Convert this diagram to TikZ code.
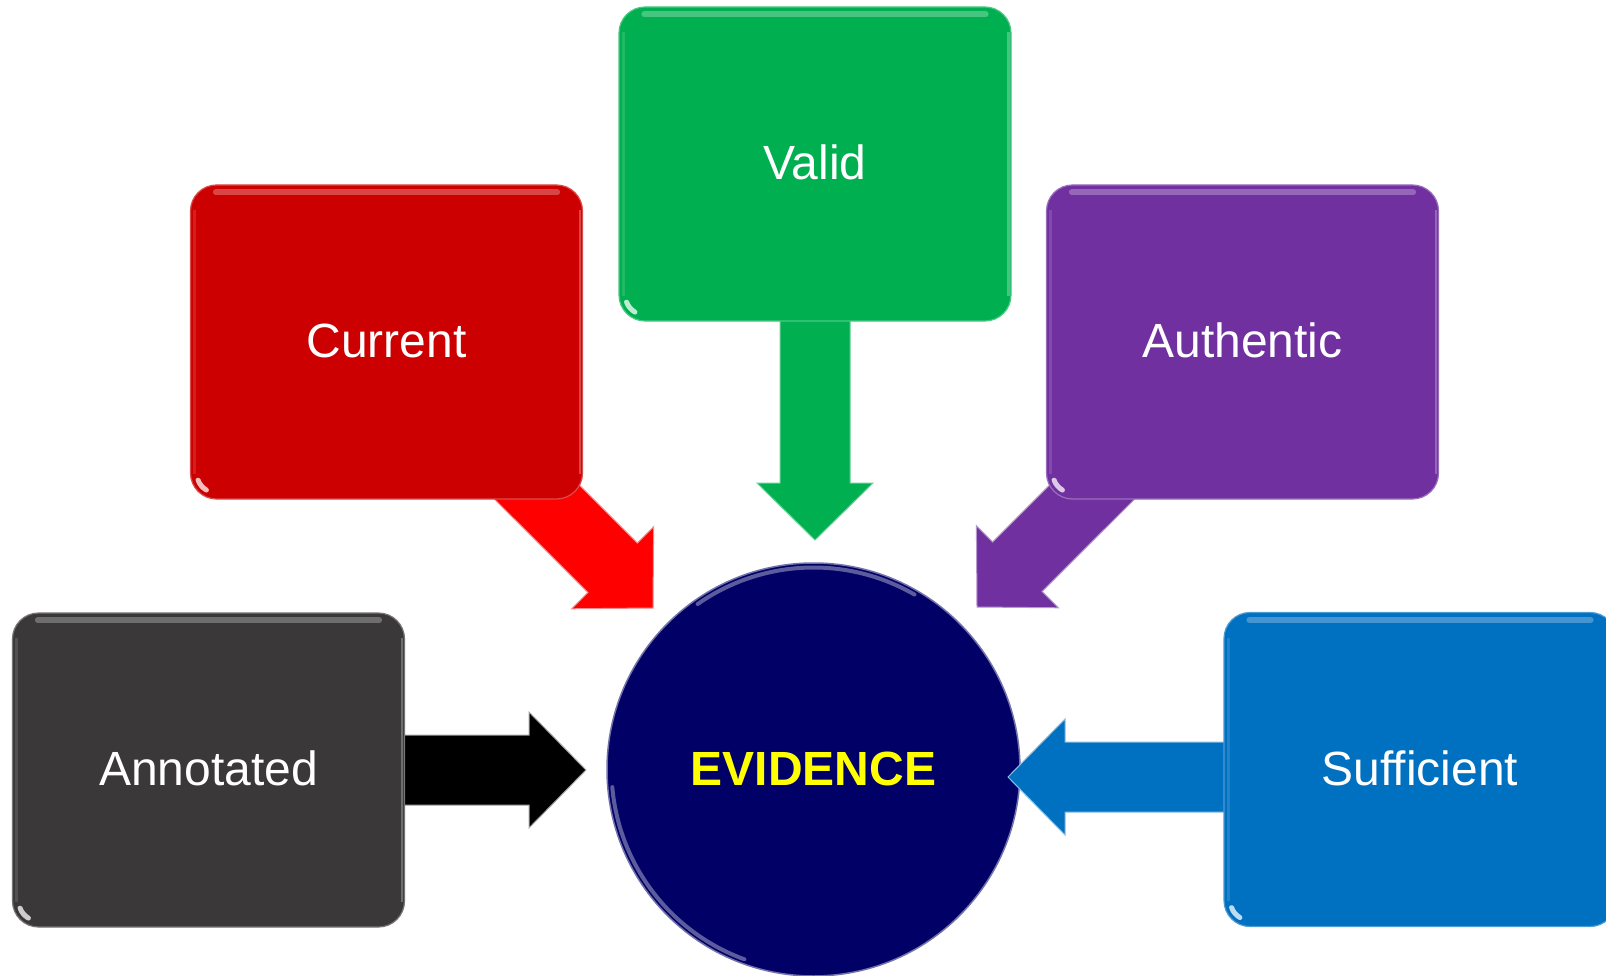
\documentclass[tikz,border=0pt]{standalone}
\usepackage{fontspec}
\setmainfont{Liberation Sans}
\usetikzlibrary{calc}
\definecolor{vgreen}{HTML}{00B050}
\definecolor{cred}{HTML}{CC0000}
\definecolor{ared}{HTML}{FF0000}
\definecolor{apurple}{HTML}{7030A0}
\definecolor{sblue}{HTML}{0070C0}
\definecolor{agray}{HTML}{3B3839}
\definecolor{enavy}{HTML}{000066}
\definecolor{eyellow}{HTML}{FFFF00}

% block arrow from #1 to tip #2, fill #3, edge #4
\newcommand\blockarrow[4]{%
  \coordinate (ba-base) at ($(#2)!57pt!(#1)$);
  \filldraw[fill=#3, draw=#4, line width=1pt, line join=miter]
    ($(#1)!35pt!90:(#2)$) -- ($(ba-base)!35pt!90:(#2)$) -- ($(ba-base)!58pt!90:(#2)$) -- (#2)
    -- ($(ba-base)!58pt!-90:(#2)$) -- ($(ba-base)!35pt!-90:(#2)$) -- ($(#1)!35pt!-90:(#2)$) -- cycle;
}
% bevel highlights of a box node #1 of colour #2
\newcommand\bevel[2]{%
  \draw[line width=6pt, line cap=round, draw=#2!55!white, opacity=.6]
    ($(#1.north west)+(26,8)$) -- ($(#1.north east)+(-26,8)$);
  \draw[line width=2.5pt, draw=#2!55!white, opacity=.6]
    ($(#1.north east)+(-3,26)$) -- ($(#1.south east)+(-3,-26)$);
  \draw[line width=3pt, draw=#2!75!white, opacity=.5]
    ($(#1.north west)+(5,26)$) -- ($(#1.south west)+(5,-26)$);
  \coordinate (bv-c) at ($(#1.south west)+(26,-26)$);
  \draw[line width=5pt, line cap=round, white, opacity=.75]
    ($(bv-c)+(200:19pt)$) arc[start angle=200, end angle=240, radius=19pt];
}

\tikzset{
  box/.style={rectangle, rounded corners=26pt, minimum width=392pt, minimum height=314pt,
    inner sep=0pt, fill=#1, draw=#1!70!white, line width=1.2pt, text=white,
    font=\fontsize{48}{58}\selectfont, text height=31pt, text depth=0pt},
  rimhl/.style={line width=4pt, line cap=round, draw=enavy!40!white, opacity=.6},
}

\begin{document}
\begin{tikzpicture}[x=1pt, y=-1pt]
\useasboundingbox (0,0) rectangle (1606,976);
\clip (0,0) rectangle (1606,976);
\fill[white] (0,0) rectangle (1606,976);

% centre circle
\node[circle, minimum size=413pt, inner sep=0pt, fill=enavy, draw=enavy!55!white, line width=1.5pt,
  text=eyellow, font=\fontsize{48}{58}\selectfont\bfseries, text height=31pt, text depth=0pt]
  (ev) at (813.5,769.5) {EVIDENCE};
\draw[rimhl] ($(ev.center)+(125:202pt)$) arc[start angle=125, end angle=60, radius=202pt];
\draw[rimhl] ($(ev.center)+(185:202pt)$) arc[start angle=185, end angle=250, radius=202pt];

% arrow tips
\coordinate (tvalid) at (815,540);
\coordinate (tcurrent) at (653,608);
\coordinate (tauth) at (977,607);
\coordinate (tannot) at (586,770);
\coordinate (tsuff) at (1008,777);

% box positions (for arrow starts)
\coordinate (cvalid) at (815,164);
\coordinate (ccurrent) at (386.5,342);
\coordinate (cauth) at (1242.5,342);
\coordinate (cannot) at (208.5,770);
\coordinate (csuff) at (1420,777);

% arrows
\blockarrow{cvalid}{tvalid}{vgreen}{vgreen!60!white}
\blockarrow{ccurrent}{tcurrent}{ared}{ared!45!white}
\blockarrow{cauth}{tauth}{apurple}{apurple!50!white}
\blockarrow{cannot}{tannot}{black}{black!35!white}
\blockarrow{csuff}{tsuff}{sblue}{sblue!45!white}

% boxes
\node[box=vgreen] (valid) at (cvalid) {Valid};
\bevel{valid}{vgreen}
\node[box=cred] (current) at (ccurrent) {Current};
\bevel{current}{cred}
\node[box=apurple] (authentic) at (cauth) {Authentic};
\bevel{authentic}{apurple}
\node[box=agray] (annotated) at (cannot) {Annotated};
\bevel{annotated}{agray}
\node[box=sblue] (sufficient) at (1420,769.5) {Sufficient};
\bevel{sufficient}{sblue}
\end{tikzpicture}
\end{document}
